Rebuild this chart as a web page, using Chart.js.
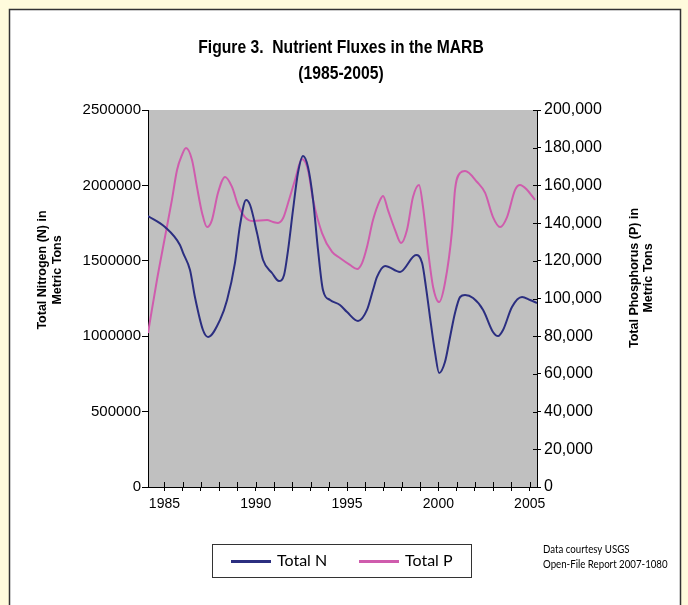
<!DOCTYPE html>
<html>
<head>
<meta charset="utf-8">
<script src="https://cdn.jsdelivr.net/npm/chart.js@4.4.1/dist/chart.umd.min.js"></script>
<style>
  body { margin: 0; background: #fffbdc; }
  canvas { display: block; }
</style>
</head>
<body>
<canvas id="myChart" width="688" height="605"></canvas>
<script>
let title_lines = ["Figure 3.  Nutrient Fluxes in the MARB", "(1985-2005)"];
let n_axis_title = ["Total Nitrogen (N) in", "Metric Tons"];
let p_axis_title = ["Total Phosphorus (P) in", "Metric Tons"];
let source_note = ["Data courtesy USGS", "Open-File Report 2007-1080"];
let series_names = ["Total N", "Total P"];

let year_ticks = [1985, 1986, 1987, 1988, 1989, 1990, 1991, 1992, 1993, 1994,
  1995, 1996, 1997, 1998, 1999, 2000, 2001, 2002, 2003, 2004, 2005];

let n_years = [1984.1, 1985.03, 1985.85, 1986.02, 1986.4, 1986.67, 1987.11, 1987.39,
  1988.04, 1988.43, 1988.86, 1989.14, 1989.47, 1989.69, 1990.07, 1990.4, 1990.89,
  1991.27, 1991.55, 1991.77, 1992.04, 1992.31, 1992.59, 1992.86, 1993.14, 1993.41,
  1993.68, 1994.07, 1994.61, 1995.0, 1995.6, 1996.09, 1996.42, 1996.64, 1997.08,
  1997.9, 1998.78, 1999.11, 1999.32, 1999.54, 1999.82, 2000.04, 2000.36, 2000.64,
  2000.91, 2001.19, 2001.46, 2001.9, 2002.45, 2002.99, 2003.27, 2003.54, 2004.03,
  2004.58, 2005.02, 2005.4];
let n_values = [1797000, 1724000, 1605000, 1552000, 1439000, 1260000, 1041000, 995000,
  1107000, 1240000, 1485000, 1737000, 1903000, 1870000, 1684000, 1505000, 1419000,
  1366000, 1406000, 1572000, 1837000, 2082000, 2195000, 2122000, 1903000, 1572000,
  1306000, 1240000, 1207000, 1160000, 1101000, 1174000, 1306000, 1393000, 1466000,
  1426000, 1538000, 1485000, 1326000, 1127000, 889000, 756000, 829000, 995000,
  1154000, 1260000, 1273000, 1253000, 1174000, 1028000, 1001000, 1041000, 1194000,
  1260000, 1240000, 1220000];

let p_years = [1984.1, 1984.59, 1985.03, 1985.41, 1985.69, 1985.96, 1986.18, 1986.51,
  1986.78, 1987.06, 1987.33, 1987.6, 1987.93, 1988.32, 1988.7, 1989.03, 1989.41,
  1989.85, 1990.62, 1990.95, 1991.22, 1991.5, 1991.77, 1992.15, 1992.53, 1992.86,
  1993.14, 1993.63, 1994.18, 1994.61, 1995.16, 1995.55, 1995.82, 1996.09, 1996.42,
  1996.81, 1996.97, 1997.24, 1997.63, 1997.96, 1998.28, 1998.61, 1998.94, 1999.16,
  1999.43, 1999.71, 2000.04, 2000.36, 2000.75, 2000.91, 2001.19, 2001.46, 2002.12,
  2002.56, 2002.99, 2003.38, 2003.76, 2004.2, 2004.47, 2004.86, 2005.29];
let p_values = [81700, 109800, 132600, 152300, 168200, 176100, 179800, 173500,
  159200, 145400, 137900, 141600, 156000, 164500, 159200, 149600, 143200,
  141100, 141600, 140600, 140100, 142700, 150700, 162900, 174000, 168200,
  152300, 134700, 124700, 121500, 117800, 115600, 118800, 127300, 141600,
  152300, 154400, 146900, 136300, 129400, 136300, 153800, 160200, 148500,
  125700, 106100, 98100, 108200, 136300, 157600, 166600, 167600, 161800,
  156000, 143200, 137900, 143200, 157600, 160200, 157600, 152300];

const navy = "#2b2e80";
const pink = "#cf5cad";

const ctx = document.getElementById("myChart");

// squeezed text, the original uses a narrow face
function narrowText(c, text, x, y, squeeze) {
  c.save();
  c.translate(x, y);
  c.scale(squeeze, 1);
  c.fillText(text, 0, 0);
  c.restore();
}

// backdrop, crossing tick marks and all the loose text around the plot
const decor = {
  id: "decor",
  beforeDraw(chart) {
    const c = chart.ctx;
    const a = chart.chartArea;
    c.save();
    c.fillStyle = "#fffbdc";
    c.fillRect(0, 0, chart.width, chart.height);
    c.fillStyle = "#ffffff";
    c.fillRect(9, 9, 671, 600);
    c.strokeStyle = "#333333";
    c.lineWidth = 1.5;
    c.strokeRect(9.5, 9.5, 671, 620);
    c.fillStyle = "#c0c0c0";
    c.fillRect(a.left, a.top, a.right - a.left, a.bottom - a.top);
    c.restore();
  },
  afterDraw(chart) {
    const c = chart.ctx;
    const a = chart.chartArea;
    c.save();

    // inner halves of the ticks that cross the right and bottom axes
    c.strokeStyle = "#000";
    c.lineWidth = 1;
    c.beginPath();
    chart.scales.yP.ticks.forEach((t) => {
      const y = Math.round(chart.scales.yP.getPixelForValue(t.value)) + 0.5;
      c.moveTo(a.right - 4, y);
      c.lineTo(a.right, y);
    });
    chart.scales.x.ticks.forEach((t) => {
      const x = Math.round(chart.scales.x.getPixelForValue(t.value)) + 0.5;
      c.moveTo(x, a.bottom - 5);
      c.lineTo(x, a.bottom);
    });
    c.stroke();

    c.fillStyle = "#000";
    c.textAlign = "center";
    c.textBaseline = "middle";
    c.font = "bold 18px 'Liberation Sans', Arial";
    narrowText(c, title_lines[0], 341, 48, 0.87);
    narrowText(c, title_lines[1], 341, 74, 0.87);

    c.font = "bold 12.5px 'Liberation Sans', Arial";
    c.save();
    c.translate(43, 270);
    c.rotate(-Math.PI / 2);
    c.fillText(n_axis_title[0], 0, 0);
    c.fillText(n_axis_title[1], 0, 15);
    c.restore();
    c.save();
    c.translate(635, 278);
    c.rotate(-Math.PI / 2);
    c.fillText(p_axis_title[0], 0, 0);
    c.fillText(p_axis_title[1], 0, 14);
    c.restore();

    // legend box
    c.strokeStyle = "#333";
    c.lineWidth = 1;
    c.strokeRect(212.5, 544.5, 259, 33);
    c.lineWidth = 3;
    c.strokeStyle = navy;
    c.beginPath();
    c.moveTo(231, 561.5);
    c.lineTo(271, 561.5);
    c.stroke();
    c.strokeStyle = pink;
    c.beginPath();
    c.moveTo(359, 561.5);
    c.lineTo(399, 561.5);
    c.stroke();
    c.textAlign = "left";
    c.font = "16px Lato, 'Open Sans', sans-serif";
    c.fillText(series_names[0], 277, 561);
    c.fillText(series_names[1], 405, 561);

    c.font = "11px Lato, 'Open Sans', sans-serif";
    narrowText(c, source_note[0], 543, 549, 0.88);
    narrowText(c, source_note[1], 543, 564, 0.88);
    c.restore();
  },
};

new Chart(ctx, {
  type: "line",
  data: {
    datasets: [
      {
        label: series_names[0],
        data: n_years.map((v, i) => ({ x: v, y: n_values[i] })),
        yAxisID: "yN",
        borderColor: navy,
        borderWidth: 2,
        pointRadius: 0,
        cubicInterpolationMode: "monotone",
      },
      {
        label: series_names[1],
        data: p_years.map((v, i) => ({ x: v, y: p_values[i] })),
        yAxisID: "yP",
        borderColor: pink,
        borderWidth: 2,
        pointRadius: 0,
        cubicInterpolationMode: "monotone",
      },
    ],
  },
  options: {
    responsive: false,
    animation: false,
    layout: { padding: { top: 110, bottom: 78, left: 0, right: 0 } },
    plugins: {
      legend: { display: false },
      title: { display: false },
      tooltip: { enabled: false },
    },
    scales: {
      x: {
        type: "linear",
        min: 1984.1,
        max: 2005.4,
        afterBuildTicks: (s) => {
          s.ticks = year_ticks.map((v) => ({ value: v }));
        },
        afterFit: (s) => {
          s.height = 40;
        },
        ticks: {
          autoSkip: false,
          maxRotation: 0,
          padding: 5,
          color: "#000",
          font: { family: "'Liberation Sans'", size: 14 },
          callback: (v) => (v % 5 === 0 ? String(v) : ""),
        },
        grid: { drawOnChartArea: false, tickLength: 4, tickColor: "#000" },
        border: { color: "#000" },
      },
      yN: {
        position: "left",
        min: 0,
        max: 2500000,
        afterFit: (s) => {
          s.width = 148;
        },
        ticks: {
          stepSize: 500000,
          padding: 1,
          color: "#000",
          font: { family: "'Liberation Sans'", size: 15 },
          callback: (v) => String(v),
        },
        grid: { drawOnChartArea: false, tickLength: 6, tickColor: "#000" },
        border: { color: "#000" },
      },
      yP: {
        position: "right",
        min: 0,
        max: 200000,
        afterFit: (s) => {
          s.width = 151;
        },
        ticks: {
          stepSize: 20000,
          padding: 3,
          color: "#000",
          font: { family: "'Liberation Sans'", size: 16 },
          callback: (v) => v.toLocaleString("en-US"),
        },
        grid: { drawOnChartArea: false, tickLength: 4, tickColor: "#000" },
        border: { color: "#000" },
      },
    },
  },
  plugins: [decor],
});
</script>
</body>
</html>
